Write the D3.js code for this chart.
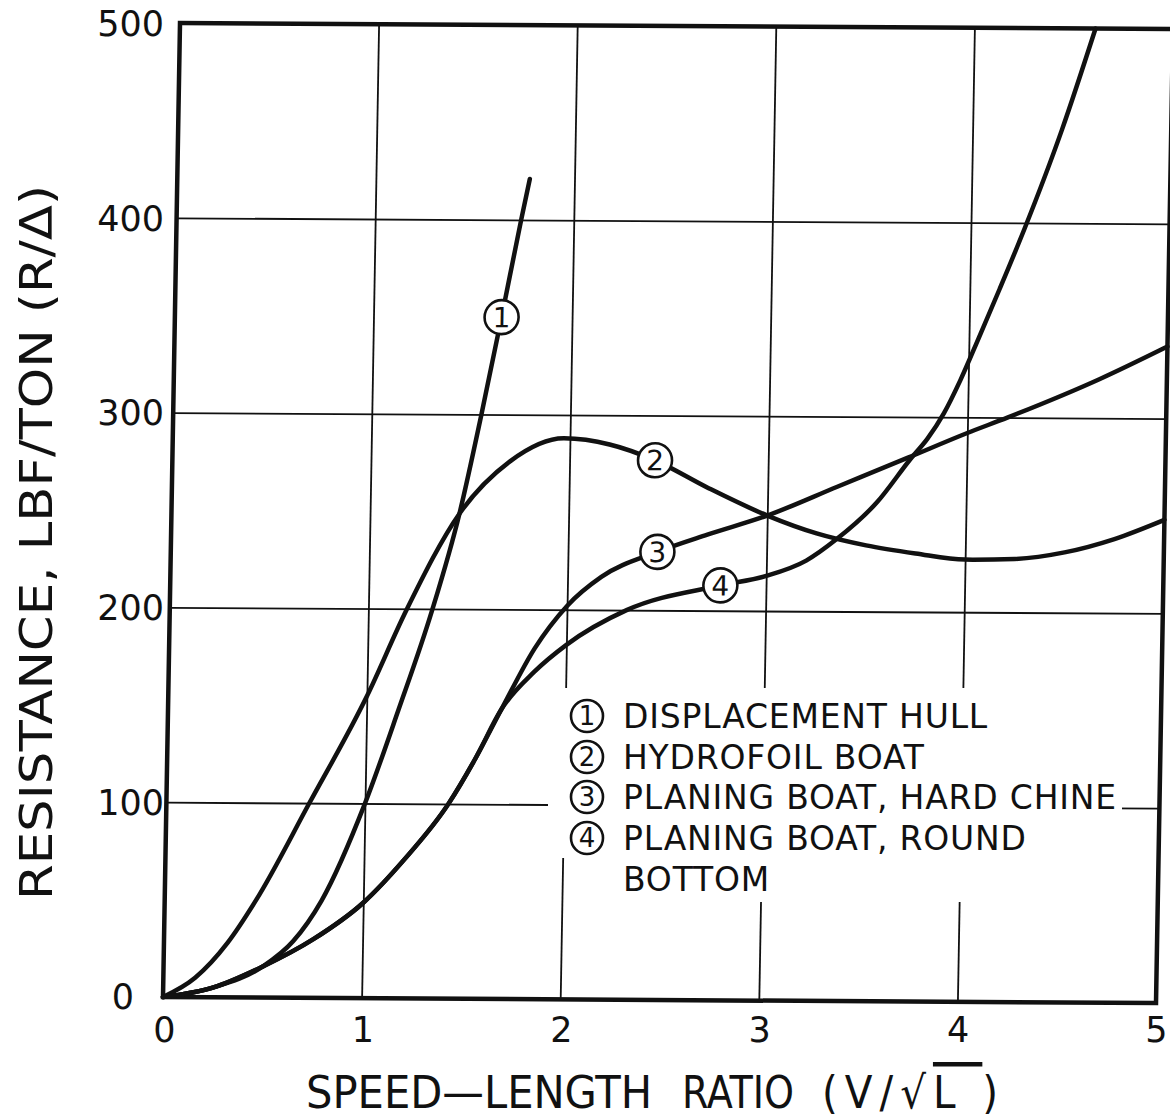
<!DOCTYPE html>
<html>
<head>
<meta charset="utf-8">
<script src="https://cdn.jsdelivr.net/npm/d3@7"></script>
<style>
  body { margin: 0; background: #fff; }
  svg text { fill: #111; }
</style>
</head>
<body>
<svg id="chart" width="1170" height="1120"></svg>
<script>
// Values: [speed-length ratio, R/Δ lbf/ton]
const speedTicks = [0, 1, 2, 3, 4, 5];
const resistanceTicks = [0, 100, 200, 300, 400, 500];

const displacementHull = [
  [0, 0], [0.25, 5], [0.5, 16], [0.65, 29], [0.79, 50], [1.0, 100], [1.16, 148],
  [1.32, 199], [1.45, 249], [1.552, 300], [1.645, 350], [1.735, 400], [1.775, 421]
];
const hydrofoilBoat = [
  [0, 0], [0.16, 10], [0.32, 28], [0.46, 50], [0.72, 100], [1.0, 155], [1.19, 199],
  [1.45, 249], [1.7, 276], [1.97, 288], [2.2, 285], [2.43, 277], [2.7, 263],
  [3.0, 249], [3.25, 240], [3.5, 234], [3.75, 230], [4.0, 227], [4.25, 227.5],
  [4.5, 231], [4.75, 238], [5.0, 248]
];
const hardChine = [
  [0, 0], [0.25, 5], [0.5, 16], [0.75, 30], [1.0, 49], [1.2, 71], [1.42, 100],
  [1.55, 123], [1.68, 149], [1.84, 180], [2.0, 202], [2.17, 217], [2.45, 230],
  [2.7, 239], [3.0, 249], [3.35, 264], [3.7, 279], [4.0, 292], [4.2, 300],
  [4.66, 320], [5.0, 337]
];
const roundBottom = [
  [0, 0], [0.25, 5], [0.5, 16], [0.75, 30], [1.0, 49], [1.2, 71], [1.42, 100],
  [1.55, 123], [1.68, 149], [1.84, 168], [2.0, 182], [2.3, 200], [2.77, 213],
  [3.0, 218], [3.2, 226], [3.35, 237], [3.55, 256], [3.72, 279], [3.8, 289],
  [3.88, 302], [3.96, 319], [4.05, 341], [4.15, 366], [4.27, 397], [4.45, 448],
  [4.61, 500]
];

const seriesIds = ["1", "2", "3", "4"];
const curveLabelPoints = [[1.645, 350], [2.43, 277], [2.45, 230], [2.77, 213]];
const legendLines = [
  ["DISPLACEMENT HULL"],
  ["HYDROFOIL BOAT"],
  ["PLANING BOAT, HARD CHINE"],
  ["PLANING BOAT, ROUND", "BOTTOM"]
];

const series = [displacementHull, hydrofoilBoat, hardChine, roundBottom];

const innerWidth = 993;
const innerHeight = 974;
// the scanned sheet is slightly sheared; mimic it on the plot area
const plotTransform = "matrix(1, 0.00604, -0.01745, 1, 180, 23)";
const ink = "#111";
const tickFont = "'DejaVu Sans', sans-serif";
const titleFont = "'DejaVu Sans Condensed', 'DejaVu Sans', sans-serif";

const svg = d3.select("#chart");
svg.append("rect")
  .attr("width", 1170)
  .attr("height", 1120)
  .attr("fill", "#fff");

const xScale = d3.scaleLinear().domain([0, 5]).range([0, innerWidth]);
const yScale = d3.scaleLinear().domain([0, 500]).range([innerHeight, 0]);

// Grid + frame
const gridChart = svg.append("g").attr("transform", plotTransform);

gridChart.append("g")
  .attr("transform", `translate(0,${innerHeight})`)
  .call(d3.axisBottom(xScale).tickValues(speedTicks.slice(1, -1)).tickSize(-innerHeight).tickFormat(""))
  .call(g => g.select(".domain").remove())
  .selectAll("line")
    .attr("stroke", ink)
    .attr("stroke-width", 1.8);

gridChart.append("g")
  .call(d3.axisLeft(yScale).tickValues(resistanceTicks.slice(1, -1)).tickSize(-innerWidth).tickFormat(""))
  .call(g => g.select(".domain").remove())
  .selectAll("line")
    .attr("stroke", ink)
    .attr("stroke-width", 1.8);

gridChart.append("rect")
  .attr("x", xScale(0))
  .attr("y", yScale(500))
  .attr("width", xScale(5) - xScale(0))
  .attr("height", yScale(0) - yScale(500))
  .attr("fill", "none")
  .attr("stroke", ink)
  .attr("stroke-width", 4.5);

// white patch behind the legend text (grid lines stop there)
svg.append("path")
  .attr("d", "M548,688 H1122 V902 H600 V858 H548 Z")
  .attr("fill", "#fff");

// Curves
const curveChart = svg.append("g").attr("transform", plotTransform);

const lineGenerator = d3.line()
  .x(d => xScale(d[0]))
  .y(d => yScale(d[1]))
  .curve(d3.curveMonotoneX);

curveChart.selectAll(".curve")
  .data(series)
  .join("path")
    .attr("class", "curve")
    .attr("d", lineGenerator)
    .attr("fill", "none")
    .attr("stroke", ink)
    .attr("stroke-width", 4.5)
    .attr("stroke-linecap", "round")
    .attr("stroke-linejoin", "round");

const curveLabels = curveChart.selectAll(".curve-label")
  .data(curveLabelPoints)
  .join("g")
    .attr("class", "curve-label")
    .attr("transform", d => `translate(${xScale(d[0])},${yScale(d[1])})`);

curveLabels.append("circle")
  .attr("r", 17)
  .attr("fill", "#fff")
  .attr("stroke", ink)
  .attr("stroke-width", 2.6);

curveLabels.append("text")
  .attr("text-anchor", "middle")
  .attr("dy", "0.36em")
  .attr("font-family", tickFont)
  .attr("font-size", 28)
  .text((d, i) => seriesIds[i]);

// Tick labels
const yLabelScale = d3.scaleLinear().domain([0, 500]).range([996, 23]);
const yAxis = svg.append("g")
  .attr("transform", "translate(164,0)")
  .call(d3.axisLeft(yLabelScale).tickValues(resistanceTicks).tickFormat(d3.format("d")).tickSize(0).tickPadding(0))
  .call(g => g.select(".domain").remove())
  .attr("font-family", tickFont)
  .attr("font-size", 35);
yAxis.selectAll("text")
  .attr("fill", ink)
  .attr("dy", "0.36em");
yAxis.selectAll(".tick")
  .filter(d => d === 0)
  .select("text")
    .attr("dx", -30);

const xLabelScale = d3.scaleLinear().domain([0, 5]).range([164, 1156]);
const xAxis = svg.append("g")
  .attr("transform", "translate(0,1029)")
  .call(d3.axisBottom(xLabelScale).tickValues(speedTicks).tickFormat(d3.format("d")).tickSize(0).tickPadding(0))
  .call(g => g.select(".domain").remove())
  .attr("font-family", tickFont)
  .attr("font-size", 35);
xAxis.selectAll("text")
  .attr("fill", ink)
  .attr("dy", "0.36em");

// Axis titles
const xTitle = svg.append("g")
  .attr("font-family", titleFont)
  .attr("font-size", 45);

xTitle.append("text")
  .attr("x", 306)
  .attr("y", 1108)
  .attr("textLength", 346)
  .attr("lengthAdjust", "spacingAndGlyphs")
  .text("SPEED—LENGTH");

xTitle.append("text")
  .attr("x", 682)
  .attr("y", 1108)
  .attr("textLength", 112)
  .attr("lengthAdjust", "spacingAndGlyphs")
  .text("RATIO");

const ratioUnit = xTitle.append("text")
  .attr("x", 822)
  .attr("y", 1108)
  .attr("letter-spacing", 7);
ratioUnit.append("tspan").text("(V/√");
ratioUnit.append("tspan").style("text-decoration", "overline").text("L\u00a0");
ratioUnit.append("tspan").text(")");

svg.append("text")
  .attr("transform", "translate(52,900) rotate(-90)")
  .attr("font-family", titleFont)
  .attr("font-size", 45)
  .attr("textLength", 715)
  .attr("lengthAdjust", "spacingAndGlyphs")
  .text("RESISTANCE, LBF/TON (R/Δ)");

// Legend
const legendRowY = [716, 757, 797, 838];
const legendRowStep = 41;

const legend = svg.append("g")
  .attr("font-family", tickFont);

const legendItems = legend.selectAll(".legend-item")
  .data(legendLines)
  .join("g")
    .attr("class", "legend-item")
    .attr("transform", (d, i) => `translate(587,${legendRowY[i]})`);

legendItems.append("circle")
  .attr("r", 16)
  .attr("fill", "#fff")
  .attr("stroke", ink)
  .attr("stroke-width", 2.6);

legendItems.append("text")
  .attr("text-anchor", "middle")
  .attr("dy", "0.36em")
  .attr("font-size", 26)
  .text((d, i) => seriesIds[i]);

legendItems.selectAll(".legend-text")
  .data(d => d)
  .join("text")
    .attr("class", "legend-text")
    .attr("x", 36)
    .attr("y", (d, j) => j * legendRowStep)
    .attr("dy", "0.36em")
    .attr("font-size", 33)
    .attr("letter-spacing", 0.8)
    .text(d => d);
</script>
</body>
</html>
